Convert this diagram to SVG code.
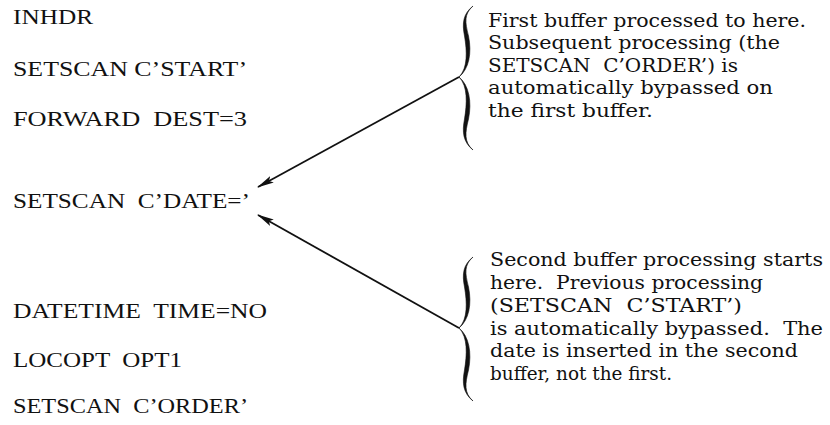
<svg xmlns="http://www.w3.org/2000/svg" width="830" height="425" viewBox="0 0 830 425">
  <style>
    text { fill: #111; white-space: pre; }
    .code { font-family: "Liberation Serif", "Times New Roman", serif; font-size: 20.5px; }
    .note { font-family: "DejaVu Serif", "Liberation Serif", serif; font-size: 18px; }
    .conn { stroke: #111; stroke-width: 1.8; fill: none; }
    .brace { fill: #111; stroke: #111; stroke-width: 0.6; }
  </style>
  <defs>
    <marker id="arrowhead" markerWidth="17" markerHeight="9" refX="16" refY="4.5" orient="auto" markerUnits="userSpaceOnUse">
      <path d="M0,0.8 L17,4.5 L0,8.2 L3.5,4.5 Z" fill="#111"/>
    </marker>
    <!-- curly brace, cusp pointing left at (459,77) -->
    <g id="brace">
      <path class="brace" d="M473,6 C463,14 462,23 464.5,36 C467,51 468,68 459,77 C469,69 472,53 468.5,36 C465,22 464,14 473,6 Z"/>
      <path class="brace" d="M473,150 C463,142 462,132 464.5,119 C467,104 468,86 459,77 C469,85 472,102 468.5,119 C465,133 464,142 473,150 Z"/>
    </g>
  </defs>

  <!-- macro statements -->
  <g id="stmt-inhdr"><text class="code" x="13" y="24" textLength="80" lengthAdjust="spacingAndGlyphs">INHDR</text></g>
  <g id="stmt-setscan-start"><text class="code" x="13" y="76" textLength="234" lengthAdjust="spacingAndGlyphs">SETSCAN C’START’</text></g>
  <g id="stmt-forward"><text class="code" x="13" y="126" textLength="234" lengthAdjust="spacingAndGlyphs">FORWARD  DEST=3</text></g>
  <g id="stmt-setscan-date"><text class="code" x="13" y="208" textLength="237" lengthAdjust="spacingAndGlyphs">SETSCAN  C’DATE=’</text></g>
  <g id="stmt-datetime"><text class="code" x="13" y="318" textLength="254" lengthAdjust="spacingAndGlyphs">DATETIME  TIME=NO</text></g>
  <g id="stmt-locopt"><text class="code" x="13" y="367" textLength="169" lengthAdjust="spacingAndGlyphs">LOCOPT  OPT1</text></g>
  <g id="stmt-setscan-order"><text class="code" x="13" y="413" textLength="235" lengthAdjust="spacingAndGlyphs">SETSCAN  C’ORDER’</text></g>

  <!-- first buffer note -->
  <g id="note-first">
    <use href="#brace"/>
    <text class="note" x="488" y="27" textLength="318" lengthAdjust="spacingAndGlyphs">First buffer processed to here.</text>
    <text class="note" x="488" y="49" textLength="292" lengthAdjust="spacingAndGlyphs">Subsequent processing (the</text>
    <text class="note" x="488" y="72" textLength="250" lengthAdjust="spacingAndGlyphs">SETSCAN  C’ORDER’) is</text>
    <text class="note" x="488" y="94" textLength="285" lengthAdjust="spacingAndGlyphs">automatically bypassed on</text>
    <text class="note" x="488" y="117" textLength="165" lengthAdjust="spacingAndGlyphs">the first buffer.</text>
  </g>

  <!-- second buffer note -->
  <g id="note-second">
    <use href="#brace" transform="translate(0,251)"/>
    <text class="note" x="490" y="266" textLength="333" lengthAdjust="spacingAndGlyphs">Second buffer processing starts</text>
    <text class="note" x="490" y="289" textLength="273" lengthAdjust="spacingAndGlyphs">here.  Previous processing</text>
    <text class="note" x="490" y="312" textLength="252" lengthAdjust="spacingAndGlyphs">(SETSCAN  C’START’)</text>
    <text class="note" x="490" y="335" textLength="333" lengthAdjust="spacingAndGlyphs">is automatically bypassed.  The</text>
    <text class="note" x="490" y="357" textLength="308" lengthAdjust="spacingAndGlyphs">date is inserted in the second</text>
    <text class="note" x="490" y="380" textLength="182" lengthAdjust="spacingAndGlyphs">buffer, not the first.</text>
  </g>

  <!-- connectors -->
  <g id="connectors">
    <line class="conn" x1="459" y1="77" x2="258" y2="187" marker-end="url(#arrowhead)"/>
    <line class="conn" x1="459" y1="328" x2="258" y2="215" marker-end="url(#arrowhead)"/>
  </g>
</svg>
